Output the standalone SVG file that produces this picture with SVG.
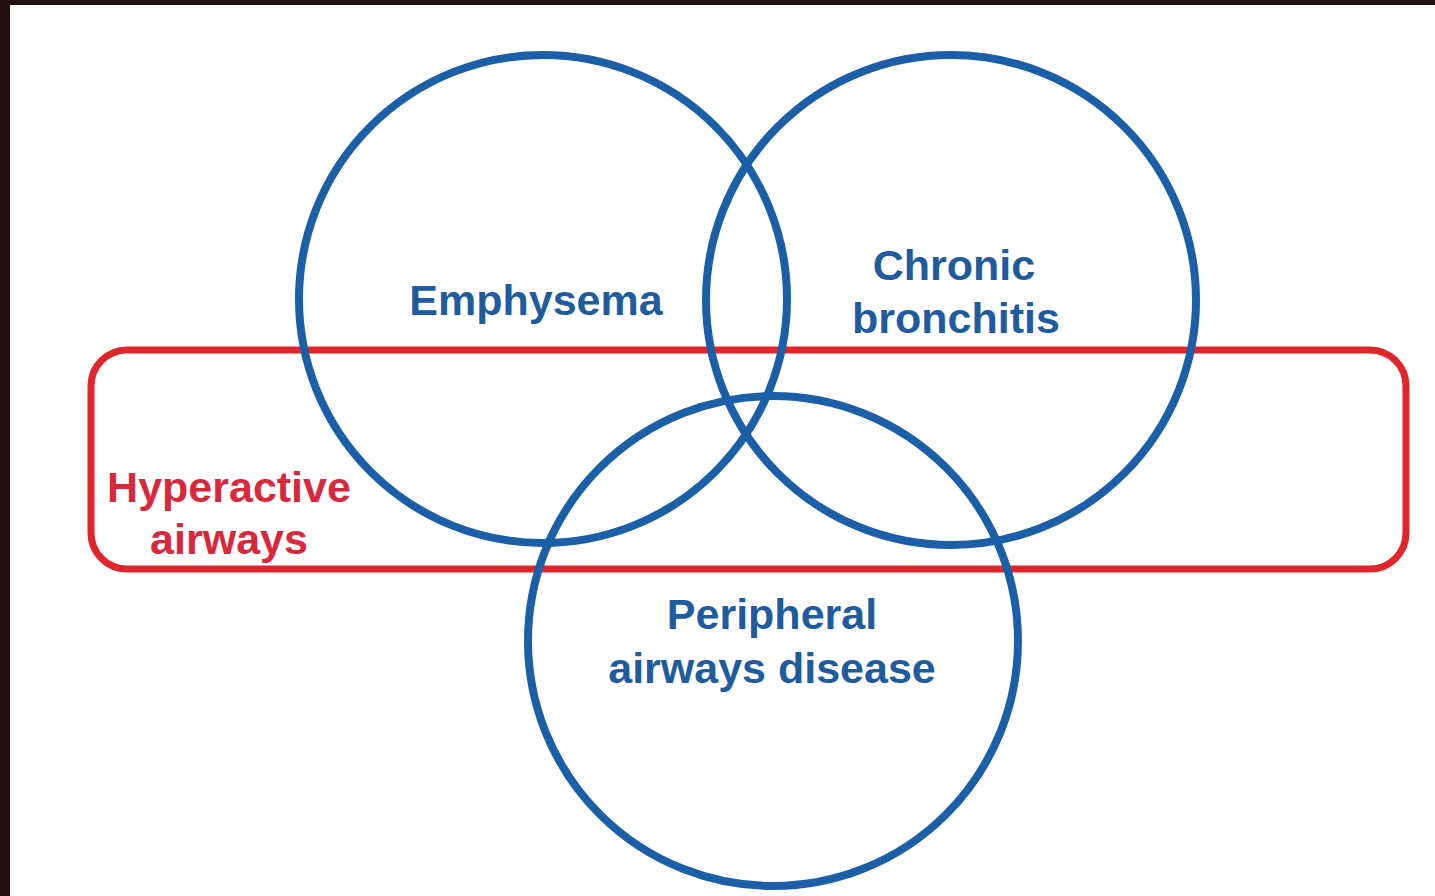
<svg xmlns="http://www.w3.org/2000/svg" width="1435" height="896" viewBox="0 0 1435 896">
  <style>
    .circle { fill: none; stroke: #1b5fa8; stroke-width: 8; }
    .box { fill: none; stroke: #e1262b; stroke-width: 7; }
    .lbl { font-family: "Liberation Sans", Arial, sans-serif; font-weight: bold; font-size: 43px; text-anchor: middle; }
    .blue { fill: #1f5c9f; }
    .red { fill: #d9283c; }
  </style>
  <rect x="0" y="0" width="1435" height="896" fill="#ffffff"/>
  <rect x="0" y="0" width="1435" height="5" fill="#231012"/>
  <rect x="0" y="0" width="10" height="896" fill="#231012"/>

  <g id="hyperactive-airways">
    <rect class="box" x="91" y="350" width="1315" height="219" rx="36" ry="36"/>
  </g>
  <g id="emphysema">
    <circle class="circle" cx="543" cy="299" r="244"/>
  </g>
  <g id="chronic-bronchitis">
    <circle class="circle" cx="951" cy="300" r="245"/>
  </g>
  <g id="peripheral-airways-disease">
    <circle class="circle" cx="773" cy="641" r="245"/>
  </g>
  <g id="connectors"></g>

  <g id="labels">
    <text class="lbl blue" x="536" y="315">Emphysema</text>
    <text class="lbl blue" x="954" y="280">Chronic</text>
    <text class="lbl blue" x="956" y="333">bronchitis</text>
    <text class="lbl red" x="229" y="502">Hyperactive</text>
    <text class="lbl red" x="229" y="554">airways</text>
    <text class="lbl blue" x="772" y="629">Peripheral</text>
    <text class="lbl blue" x="772" y="683">airways disease</text>
  </g>
</svg>
